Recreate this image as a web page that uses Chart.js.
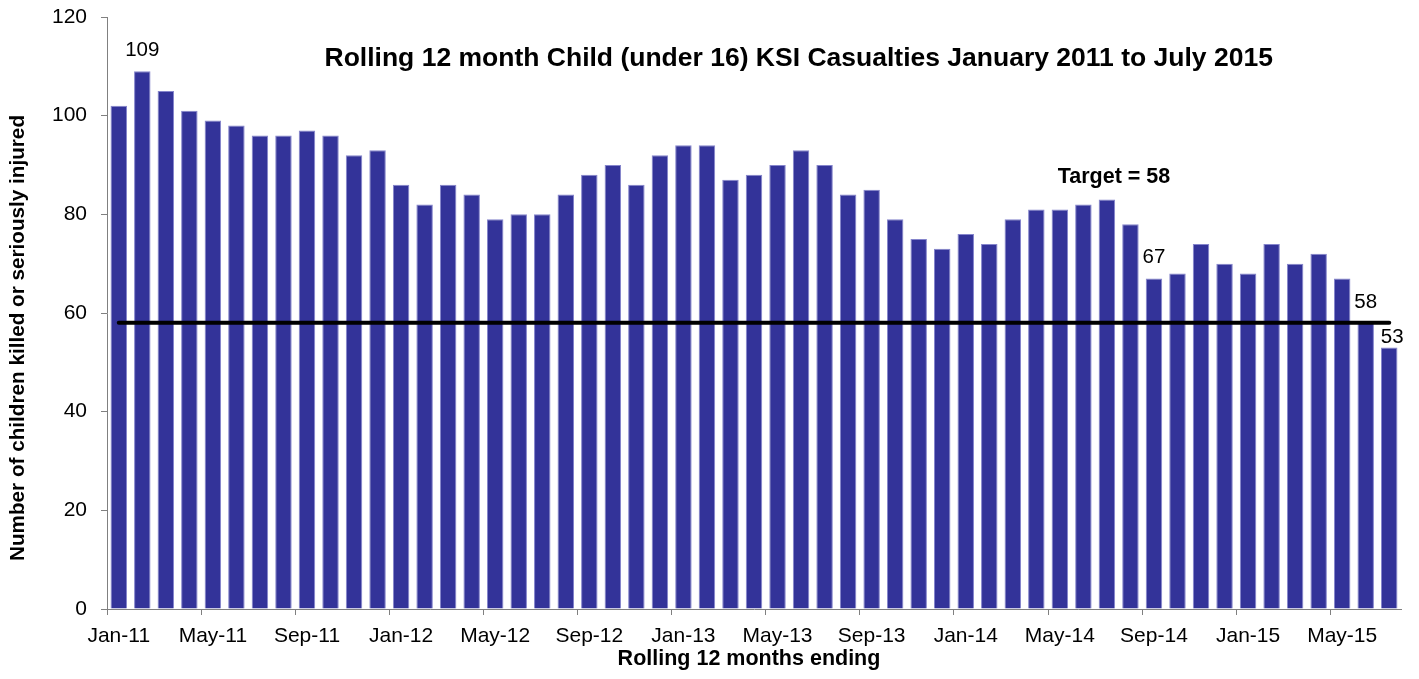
<!DOCTYPE html>
<html>
<head>
<meta charset="utf-8">
<script src="https://cdn.jsdelivr.net/npm/chart.js@4.4.1/dist/chart.umd.min.js"></script>
<style>
  html, body { margin: 0; padding: 0; background: #ffffff; }
  #wrap { width: 1419px; height: 679px; position: relative; }
</style>
</head>
<body>
<div id="wrap"><canvas id="c"></canvas></div>
<script>
const categories = [
  'Jan-11','Feb-11','Mar-11','Apr-11','May-11','Jun-11','Jul-11','Aug-11','Sep-11','Oct-11','Nov-11','Dec-11',
  'Jan-12','Feb-12','Mar-12','Apr-12','May-12','Jun-12','Jul-12','Aug-12','Sep-12','Oct-12','Nov-12','Dec-12',
  'Jan-13','Feb-13','Mar-13','Apr-13','May-13','Jun-13','Jul-13','Aug-13','Sep-13','Oct-13','Nov-13','Dec-13',
  'Jan-14','Feb-14','Mar-14','Apr-14','May-14','Jun-14','Jul-14','Aug-14','Sep-14','Oct-14','Nov-14','Dec-14',
  'Jan-15','Feb-15','Mar-15','Apr-15','May-15','Jun-15','Jul-15'
];
const ksiValues = [
  102,109,105,101,99,98,96,96,97,96,92,93,
  86,82,86,84,79,80,80,84,88,90,86,92,
  94,94,87,88,90,93,90,84,85,79,75,73,
  76,74,79,81,81,82,83,78,67,68,74,70,
  68,74,70,72,67,58,53
];
const targetValue = 58;
const targetStart = 'Jan-11';
const targetEnd = 'Jul-15';
const labelledMonths = ['Feb-11','Sep-14','Jun-15','Jul-15'];
const yTicks = [0,20,40,60,80,100,120];
const shownXTicks = ['Jan-11','May-11','Sep-11','Jan-12','May-12','Sep-12','Jan-13','May-13','Sep-13','Jan-14','May-14','Sep-14','Jan-15','May-15'];
const chartTitle = 'Rolling 12 month Child (under 16) KSI Casualties January 2011 to July 2015';
const yTitle = 'Number of children killed or seriously injured';
const xTitle = 'Rolling 12 months ending';

const FONT = '"Liberation Sans", Arial, sans-serif';

const overlay = {
  id: 'overlay',
  afterDatasetsDraw(chart) {
    const ctx = chart.ctx;
    const xs = chart.scales.x, ys = chart.scales.y;
    const ca = chart.chartArea;
    ctx.save();
    ctx.fillStyle = '#000';
    // value labels
    ctx.font = '20.5px ' + FONT;
    ctx.textAlign = 'center';
    ctx.textBaseline = 'alphabetic';
    labelledMonths.forEach(m => {
      const i = categories.indexOf(m);
      const v = ksiValues[i];
      const gap = (i === categories.length - 1) ? 5 : 15;
      const dx = (i === categories.length - 1) ? 3 : 0;
      ctx.fillText(String(v), xs.getPixelForValue(i) + dx, ys.getPixelForValue(v) - gap);
    });
    // target label
    ctx.font = 'bold 21.5px ' + FONT;
    ctx.textBaseline = 'middle';
    ctx.fillText('Target = ' + targetValue, xs.getPixelForValue(42.3), ys.getPixelForValue(87.6));
    // chart title
    ctx.font = 'bold 26.5px ' + FONT;
    ctx.fillText(chartTitle, xs.getPixelForValue(28.9), ys.getPixelForValue(111.6));
    // x axis title
    ctx.font = 'bold 21.5px ' + FONT;
    ctx.textBaseline = 'alphabetic';
    ctx.fillText(xTitle, (ca.left + ca.right) / 2 - 5, 665);
    // y axis title
    ctx.translate(18, (ca.top + ca.bottom) / 2 + 25);
    ctx.rotate(-Math.PI / 2);
    ctx.font = 'bold 20.7px ' + FONT;
    ctx.textBaseline = 'middle';
    ctx.fillText(yTitle, 0, 0);
    ctx.restore();
  }
};

new Chart(document.getElementById('c'), {
  data: {
    labels: categories,
    datasets: [
      {
        type: 'line',
        data: [{x: targetStart, y: targetValue}, {x: targetEnd, y: targetValue}],
        borderColor: '#000000',
        borderWidth: 4,
        borderCapStyle: 'round',
        pointRadius: 0,
        fill: false,
        order: 0
      },
      {
        type: 'bar',
        data: ksiValues,
        backgroundColor: '#333399',
        borderColor: '#8585cc',
        borderWidth: {left: 1, right: 1, top: 1, bottom: 0},
        borderSkipped: false,
        categoryPercentage: 1.0,
        barPercentage: 0.7,
        order: 1
      }
    ]
  },
  options: {
    responsive: true,
    maintainAspectRatio: false,
    animation: false,
    layout: { padding: { top: 17, right: 18, left: 0, bottom: 0 } },
    plugins: {
      legend: { display: false },
      tooltip: { enabled: false },
      title: { display: false }
    },
    scales: {
      x: {
        type: 'category',
        offset: true,
        grid: {
          offset: true,
          drawOnChartArea: false,
          drawTicks: true,
          tickLength: 6,
          color: (c) => (c.index % 4 === 0 ? '#808080' : 'rgba(0,0,0,0)')
        },
        border: { display: true, color: '#808080', width: 1 },
        ticks: {
          autoSkip: false,
          maxRotation: 0,
          minRotation: 0,
          padding: 9,
          color: '#000',
          font: { family: FONT, size: 21 },
          callback: function(val, idx) {
            const l = categories[idx];
            return shownXTicks.includes(l) ? l : '';
          }
        },
        title: { display: false },
        afterFit: (s) => { s.height = 70; s.paddingLeft = 0; s.paddingRight = 0; }
      },
      y: {
        min: 0,
        max: 120,
        afterBuildTicks: (s) => { s.ticks = yTicks.map(v => ({ value: v })); },
        grid: {
          drawOnChartArea: false,
          drawTicks: true,
          tickLength: 6,
          color: '#808080'
        },
        border: { display: true, color: '#808080', width: 1 },
        ticks: {
          padding: 14,
          color: '#000',
          font: { family: FONT, size: 21 }
        },
        title: { display: false },
        afterFit: (s) => { s.width = 107; s.paddingTop = 0; s.paddingBottom = 0; }
      }
    }
  },
  plugins: [overlay]
});
</script>
</body>
</html>
